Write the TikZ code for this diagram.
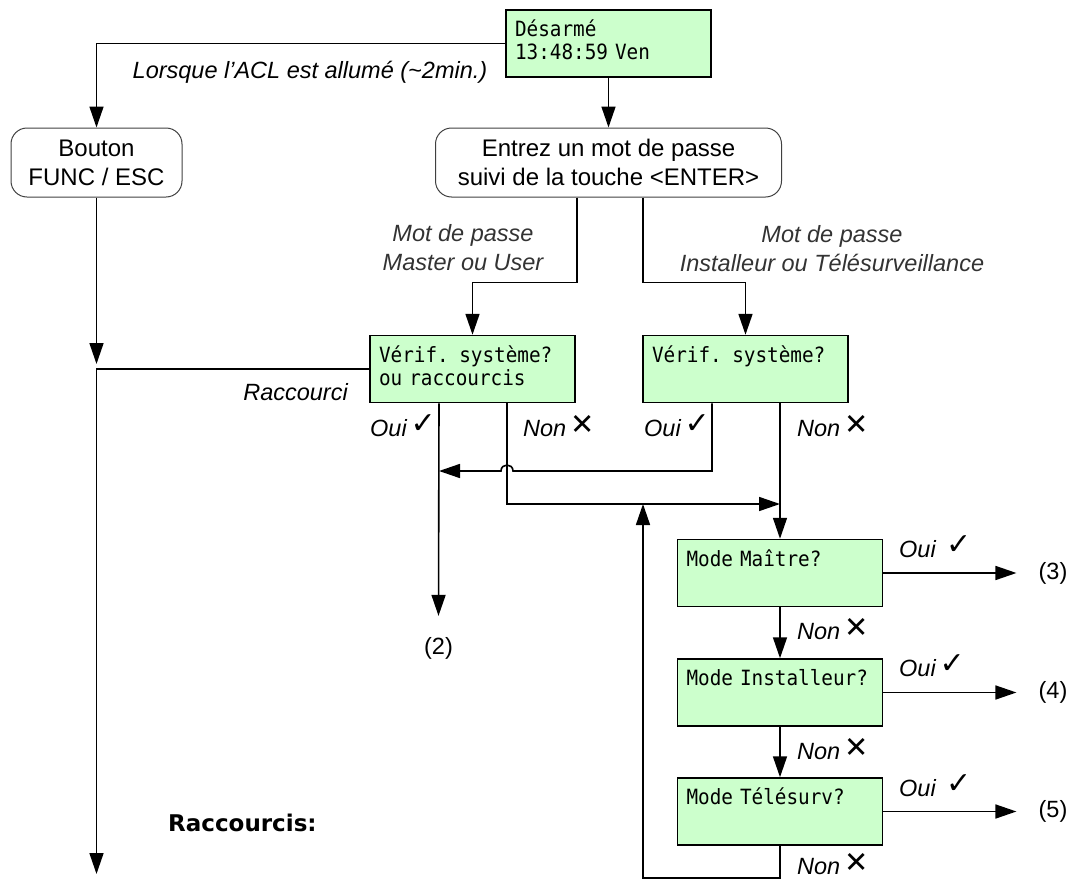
\documentclass[tikz,border=0pt]{standalone}
\usepackage{fontspec}
\setmainfont{Liberation Sans}
\newfontfamily\lcdfont{DejaVu Sans Mono}[FakeStretch=0.92]
\newfontfamily\symfont{DejaVu Sans}
\usetikzlibrary{arrows.meta,calc}
\definecolor{lcdgreen}{HTML}{CCFFCC}
\newcommand\okmark{\,\raisebox{3pt}{\fontsize{30}{30}\selectfont\symfont ✓}}
\newcommand\nomark{\,\raisebox{2pt}{\fontsize{29}{29}\selectfont\symfont ✕}}
\begin{document}
\begin{tikzpicture}[x=1pt,y=-1pt,
  lcd/.style={draw, line width=1.5pt, fill=lcdgreen, minimum height=67pt,
    inner xsep=9pt, inner ysep=0pt, text width=187pt, align=left,
    font=\lcdfont\fontsize{21}{23}\selectfont},
  keybox/.style={draw=black!75, line width=1pt, rounded corners=16pt,
    minimum height=69pt, align=center, font=\fontsize{24}{29}\selectfont},
  wire/.style={line width=1.6pt},
  arr/.style={wire, -{Triangle[length=21pt,width=14pt]}},
  lab/.style={font=\itshape\fontsize{23.5}{29}\selectfont, inner sep=0pt},
  note/.style={lab, text=black!80, align=center},
  txt/.style={font=\fontsize{23.5}{29}\selectfont, inner sep=0pt}]
\useasboundingbox (0,0) rectangle (1072,881);

% display screens and keys
\node[lcd] (top) at (608.5,43.5) {\strut Désarmé\\\strut\mbox{13:48:59 Ven}};
\node[keybox, minimum width=171pt] (btn) at (96.5,162.5) {Bouton\\FUNC / ESC};
\node[keybox, minimum width=346pt] (ent) at (608.5,162.5) {Entrez un mot de passe\\suivi de la touche <ENTER>};
\node[lcd] (v1) at (472.5,369) {\strut\mbox{Vérif. système?}\\\strut\mbox{ou raccourcis}};
\node[lcd] (v2) at (745.5,369) {\strut\mbox{Vérif. système?}\\\strut};
\node[lcd] (m1) at (780,573) {\strut\mbox{Mode Maître?}\\\strut};
\node[lcd] (m2) at (780,692.5) {\strut\mbox{Mode Installeur?}\\\strut};
\node[lcd] (m3) at (780,811.5) {\strut\mbox{Mode Télésurv?}\\\strut};

% exits
\node[txt] (l2) at (438.5,648) {(2)};
\node[txt] (l3) at (1053,573) {(3)};
\node[txt] (l4) at (1053,692.5) {(4)};
\node[txt] (l5) at (1053,811.5) {(5)};

% helper points
\coordinate (eL) at ([xshift=-31.5pt]ent.south);
\coordinate (eR) at ([xshift=34.5pt]ent.south);
\coordinate (v1oui) at ([xshift=-33.5pt]v1.south);
\coordinate (v1non) at ([xshift=34.5pt]v1.south);
\coordinate (v2oui) at ([xshift=-33.5pt]v2.south);
\coordinate (v2non) at ([xshift=34.5pt]v2.south);
\coordinate (mergeTip) at (96.5,364);
\coordinate (shortEnd) at (96.5,874);
\coordinate (hop) at (507,471);
\coordinate (join) at (780,504);
\coordinate (back) at (643,504);

% connectors
\draw[arr] (top.west) -| (btn.north);
\draw[arr] (top.south) -- (ent.north);
\draw[arr] (eL) -- ++(0,85) -| (v1.north);
\draw[arr] (eR) -- ++(0,85) -| (v2.north);
\draw[arr] (btn.south) -- (mergeTip);
\draw[arr] (v1.west) -| (shortEnd);
\draw[arr] (v1oui) -- ([yshift=21pt]l2.north);
\draw[arr] (v1non) |- (join);
\draw[arr] (v2oui) |- ([xshift=6pt]hop)
  .. controls ([xshift=6pt,yshift=8pt]hop) and ([xshift=-6pt,yshift=8pt]hop) .. ([xshift=-6pt]hop)
  -- (v1oui |- hop);
\draw[arr] (v2non) -- (m1.north);
\draw[arr] (m1.south) -- (m2.north);
\draw[arr] (m2.south) -- (m3.north);
\draw[arr] (m3.south) -- ++(0,32.5) -| (back);
\draw[arr] (m1.east) -- ([xshift=-22pt]l3.west);
\draw[arr] (m2.east) -- ([xshift=-22pt]l4.west);
\draw[arr] (m3.east) -- ([xshift=-22pt]l5.west);

% labels
\node[lab] (lcdOn) at (310,72) {Lorsque l’ACL est allumé (\textasciitilde 2min.)};
\node[note] (pwA) at (463,248) {Mot de passe\\Master ou User};
\node[note] (pwB) at (832,249) {Mot de passe\\Installeur ou Télésurveillance};
\node[lab, anchor=base east] (rc) at (348,400) {Raccourci};
\node[lab, anchor=base east] (o1) at (436,436) {Oui\okmark};
\node[lab, anchor=base west] (n1) at (523,436) {Non\nomark};
\node[lab, anchor=base east] (o2) at (710,436) {Oui\okmark};
\node[lab, anchor=base west] (n2) at (797,436) {Non\nomark};
\node[lab, anchor=base west] (o3) at (899,557) {Oui \okmark};
\node[lab, anchor=base west] (n3) at (797,639) {Non\nomark};
\node[lab, anchor=base west] (o4) at (899,676) {Oui\okmark};
\node[lab, anchor=base west] (n4) at (797,759) {Non\nomark};
\node[lab, anchor=base west] (o5) at (899,796) {Oui \okmark};
\node[lab, anchor=base west] (n5) at (797,874) {Non\nomark};
\node[anchor=west, inner sep=0pt, font=\symfont\bfseries\fontsize{23}{28}\selectfont] (rcs) at (168,823) {Raccourcis:};
\end{tikzpicture}
\end{document}
